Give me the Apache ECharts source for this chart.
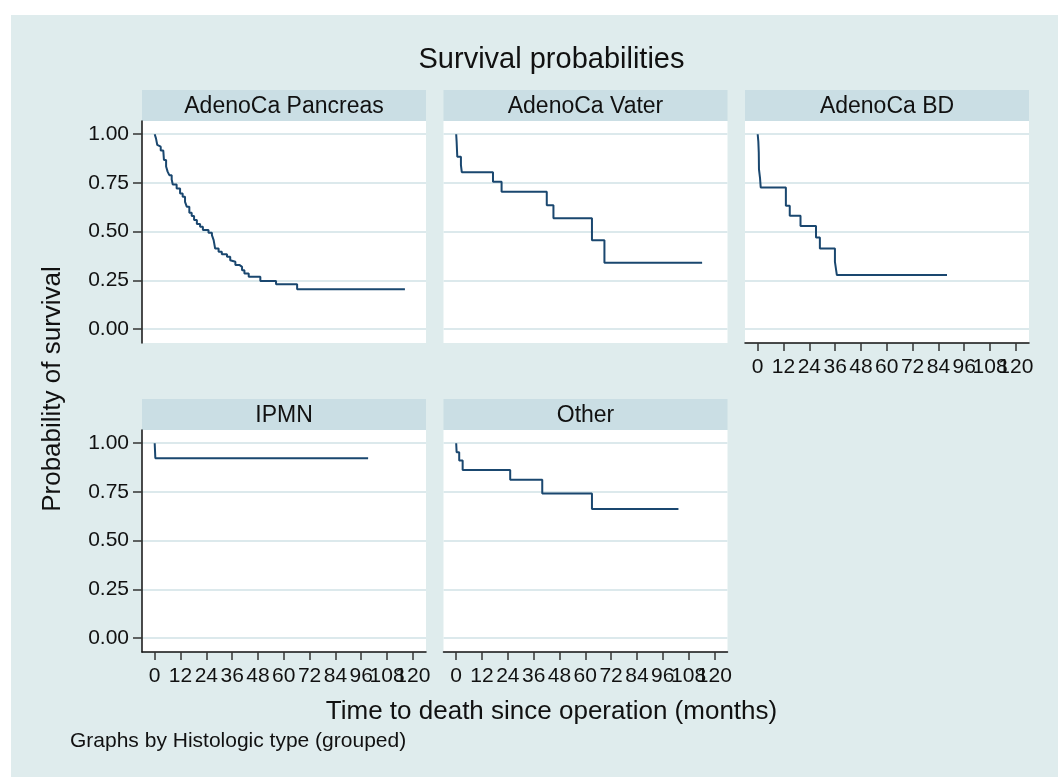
<!DOCTYPE html>
<html>
<head>
<meta charset="utf-8">
<script src="https://cdn.jsdelivr.net/npm/echarts@6/dist/echarts.min.js"></script>
<style>
  html, body { margin: 0; padding: 0; background: #fff; }
  #bg { position: absolute; left: 11px; top: 15px; width: 1047px; height: 762px; background: #dfeced; }
  #chart { position: absolute; left: 0; top: 0; width: 1058px; height: 777px; }
</style>
</head>
<body>
<div id="bg"></div>
<div id="chart"></div>
<script>
// panel names (Histologic type, grouped)
const panelNames = ['AdenoCa Pancreas', 'AdenoCa Vater', 'AdenoCa BD', 'IPMN', 'Other']

// Kaplan-Meier steps: time of drop (months) and survival after it
const pancreasTime = [0, 0.6, 1.2, 1.7, 2.8, 4.0, 4.3, 5.3, 6.0, 6.8, 7.9, 8.4, 10.2, 11.8, 13.0, 14.1, 14.9, 16.1, 17.2, 18.3, 19.6, 21.1, 22.4, 25.0, 26.6, 27.4, 28.1, 29.7, 31.2, 33.6, 35.1, 35.9, 37.5, 39.5, 40.6, 41.7, 43.7, 49.1, 56.4, 66.2, 116.3]
const pancreasSurv = [1, 0.979, 0.945, 0.936, 0.916, 0.911, 0.868, 0.834, 0.808, 0.790, 0.768, 0.742, 0.722, 0.696, 0.679, 0.653, 0.628, 0.597, 0.580, 0.559, 0.539, 0.525, 0.508, 0.494, 0.482, 0.456, 0.413, 0.396, 0.384, 0.371, 0.353, 0.345, 0.328, 0.319, 0.302, 0.285, 0.268, 0.247, 0.230, 0.204, 0.204]

const vaterTime = [0, 0.2, 0.5, 2.2, 2.6, 17.1, 21.1, 42.1, 45.2, 63.1, 68.9, 114.3]
const vaterSurv = [1, 0.962, 0.885, 0.842, 0.805, 0.756, 0.705, 0.636, 0.568, 0.456, 0.340, 0.340]

const bdTime = [0, 0.3, 0.5, 0.6, 1.1, 1.4, 13.1, 14.9, 19.9, 27.1, 28.9, 35.9, 36.8, 88.0]
const bdSurv = [1, 0.962, 0.907, 0.820, 0.773, 0.727, 0.633, 0.582, 0.529, 0.470, 0.413, 0.345, 0.277, 0.277]

const ipmnTime = [0, 0.3, 99.2]
const ipmnSurv = [1, 0.923, 0.923]

const otherTime = [0, 0.2, 1.4, 3.0, 25.1, 40.0, 63.1, 103.3]
const otherSurv = [1, 0.954, 0.911, 0.863, 0.812, 0.742, 0.662, 0.662]

// tick labels
const xTicks = [0, 12, 24, 36, 48, 60, 72, 84, 96, 108, 120]
const yTicks = [0, 0.25, 0.5, 0.75, 1]

const panelTimes = [pancreasTime, vaterTime, bdTime, ipmnTime, otherTime]
const panelSurv = [pancreasSurv, vaterSurv, bdSurv, ipmnSurv, otherSurv]

const font = 'Liberation Sans, Arial, Helvetica, sans-serif'
const ink = '#111'
const lineColor = '#1a476f'
const stripColor = '#cadee4'
const gridColor = '#dce9ec'

// panel boxes: plot area position
const cols = [142, 443.5, 745]
const rows = [121, 430]
const plotW = 284
const plotH = 222
const stripH = 31

const boxes = panelNames.map((name, i) => ({
  left: cols[i % 3],
  top: rows[Math.floor(i / 3)],
  showY: i % 3 === 0,
  showX: i >= 2,
}))

const grids = boxes.map((b) => ({
  left: b.left,
  top: b.top,
  width: plotW,
  height: plotH,
  show: true,
  backgroundColor: '#fff',
  borderWidth: 0,
  containLabel: false,
}))

const xLabel = (show, values) => ({
  show,
  customValues: values,
  interval: 0,
  hideOverlap: false,
  showMinLabel: true,
  showMaxLabel: true,
  margin: 14,
  color: ink,
  fontFamily: font,
  fontSize: 21,
})

// the labels overlap like in the original, and the axis drops overlapping
// neighbours, so even and odd labels go on two stacked axes
const evenTicks = xTicks.filter((v, k) => k % 2 === 0)
const oddTicks = xTicks.filter((v, k) => k % 2 === 1)

const xAxes = boxes.map((b, i) => ({
  type: 'value',
  gridIndex: i,
  position: 'bottom',
  min: -5.9,
  max: 126.1,
  splitLine: { show: false },
  axisLine: { show: b.showX, onZero: false, lineStyle: { color: ink, width: 1.5 } },
  axisTick: {
    show: b.showX,
    customValues: xTicks,
    length: 8,
    lineStyle: { color: '#333', width: 1.5 },
  },
  axisLabel: xLabel(b.showX, evenTicks),
})).concat(boxes.map((b, i) => ({
  type: 'value',
  gridIndex: i,
  position: 'bottom',
  offset: 0,
  min: -5.9,
  max: 126.1,
  splitLine: { show: false },
  axisLine: { show: false, onZero: false },
  axisTick: { show: false, customValues: oddTicks },
  axisLabel: xLabel(b.showX, oddTicks),
})))

const yAxes = boxes.map((b, i) => ({
  type: 'value',
  gridIndex: i,
  min: -0.072,
  max: 1.068,
  axisLine: { show: b.showY, onZero: false, lineStyle: { color: ink, width: 1.5 } },
  axisTick: {
    show: b.showY,
    customValues: yTicks,
    length: 9,
    lineStyle: { color: '#333', width: 1.5 },
  },
  axisLabel: {
    show: b.showY,
    customValues: yTicks,
    margin: 13,
    color: ink,
    fontFamily: font,
    fontSize: 21,
    formatter: (v) => v.toFixed(2),
  },
  splitLine: { show: true, lineStyle: { color: gridColor, width: 2 } },
}))

const series = panelNames.map((name, i) => ({
  name,
  type: 'line',
  xAxisIndex: i,
  yAxisIndex: i,
  step: 'end',
  symbol: 'none',
  silent: true,
  animation: false,
  lineStyle: { color: lineColor, width: 2 },
  data: panelTimes[i].map((t, k) => [t, panelSurv[i][k]]),
}))

const strips = boxes.map((b, i) => ({
  type: 'group',
  left: b.left,
  top: b.top - stripH,
  children: [
    { type: 'rect', shape: { x: 0, y: 0, width: plotW, height: stripH }, style: { fill: stripColor } },
    {
      type: 'text',
      x: plotW / 2,
      y: stripH / 2 + 1,
      style: { text: panelNames[i], fill: ink, font: '23px ' + font, align: 'center', verticalAlign: 'middle' },
    },
  ],
}))

const option = {
  animation: false,
  grid: grids,
  xAxis: xAxes,
  yAxis: yAxes,
  series,
  graphic: [
    ...strips,
    {
      type: 'text',
      x: 551.5,
      y: 60,
      style: { text: 'Survival probabilities', fill: ink, font: '29px ' + font, align: 'center', verticalAlign: 'middle' },
    },
    {
      type: 'text',
      x: 53,
      y: 389,
      rotation: Math.PI / 2,
      style: { text: 'Probability of survival', fill: ink, font: '26px ' + font, align: 'center', verticalAlign: 'middle' },
    },
    {
      type: 'text',
      x: 551.5,
      y: 712,
      style: { text: 'Time to death since operation (months)', fill: ink, font: '26px ' + font, align: 'center', verticalAlign: 'middle' },
    },
    {
      type: 'text',
      x: 70,
      y: 741,
      style: { text: 'Graphs by Histologic type (grouped)', fill: ink, font: '21px ' + font, align: 'left', verticalAlign: 'middle' },
    },
  ],
}

const myChart = echarts.init(document.getElementById('chart'), null, { renderer: 'canvas' })
myChart.setOption(option)
</script>
</body>
</html>
